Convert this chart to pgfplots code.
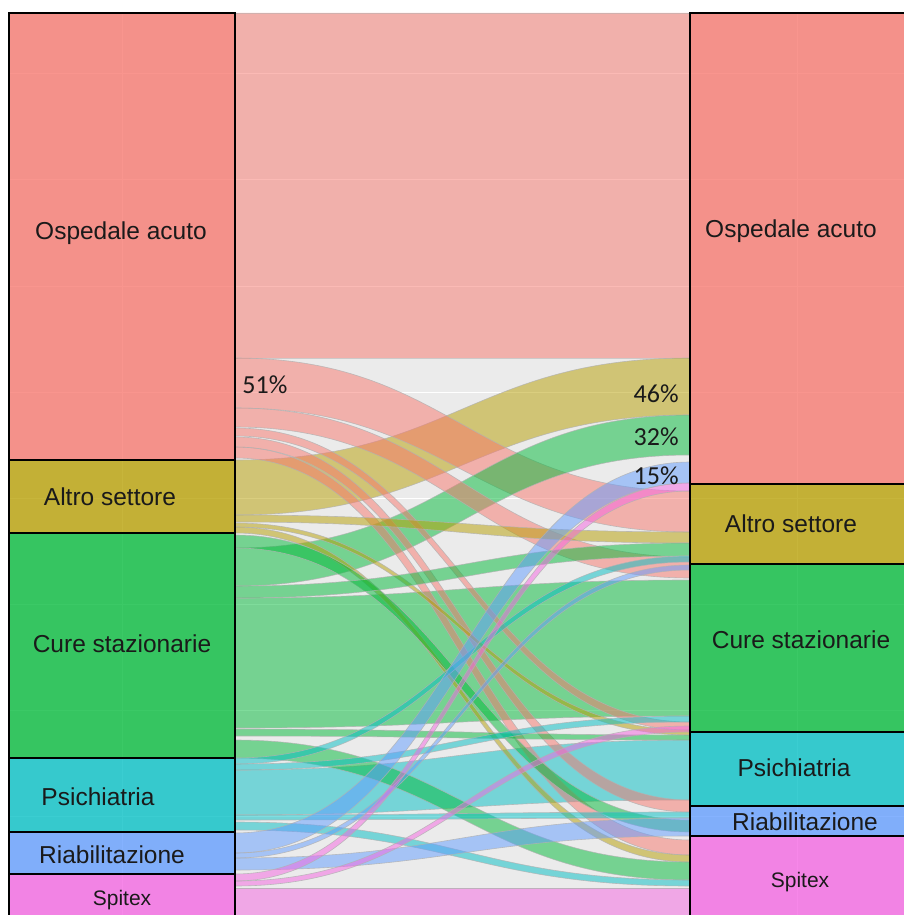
\documentclass[border=0pt]{standalone}
\usepackage{fontspec}
\setmainfont{Liberation Sans}
\newfontfamily\pctfont{Carlito}
\usepackage{pgfplots}
\pgfplotsset{compat=1.18}
\definecolor{cP}{HTML}{F8766D}
\definecolor{cO}{HTML}{B79F00}
\definecolor{cG}{HTML}{00BA38}
\definecolor{cC}{HTML}{00BFC4}
\definecolor{cB}{HTML}{619CFF}
\definecolor{cM}{HTML}{F564E3}
\definecolor{panel}{HTML}{EBEBEB}
\definecolor{txt}{HTML}{1A1A1A}
% flow: left top, left bottom, right top, right bottom, colour
\newcommand{\flow}[5]{%
 \path[fill=#5, fill opacity=0.5, draw=gray!60, draw opacity=0.8, line width=0.3pt]
 (axis cs:235,#1) .. controls (axis cs:450,#1) and (axis cs:475,#3) .. (axis cs:690,#3)
 -- (axis cs:690,#4) .. controls (axis cs:475,#4) and (axis cs:450,#2) .. (axis cs:235,#2) -- cycle;}
% stratum: x0, x1, y0, y1, colour
\newcommand{\stratum}[5]{%
 \addplot[fill=#5, fill opacity=0.77, draw=black, line width=0.65pt] coordinates {(#1,#3) (#2,#3) (#2,#4) (#1,#4)} --cycle;}
\begin{document}
\begin{tikzpicture}
\begin{axis}[
  width=452pt, height=457.5pt, scale only axis,
  xmin=0, xmax=904, ymin=0, ymax=915, y dir=reverse,
  hide axis, clip=true]
% frame for the page size
\addplot[draw=white, opacity=0] coordinates {(0,0) (904,0) (904,915) (0,915)} --cycle;
% panel
\addplot[fill=panel, draw=none] coordinates {(9,13) (912,13) (912,922) (9,922)} --cycle;
% grid
\addplot[white, line width=0.35pt] coordinates {(9,73) (904,73)};
\addplot[white, line width=0.35pt] coordinates {(9,179) (904,179)};
\addplot[white, line width=0.35pt] coordinates {(9,286) (904,286)};
\addplot[white, line width=0.35pt] coordinates {(9,392) (904,392)};
\addplot[white, line width=0.35pt] coordinates {(9,498) (904,498)};
\addplot[white, line width=0.35pt] coordinates {(9,604) (904,604)};
\addplot[white, line width=0.35pt] coordinates {(9,710) (904,710)};
\addplot[white, line width=0.35pt] coordinates {(9,816) (904,816)};
\addplot[white, line width=0.35pt] coordinates {(122,13) (122,915)};
\addplot[white, line width=0.35pt] coordinates {(797,13) (797,915)};
% flows
\flow{13}{358}{13}{358}{cP}
\flow{888}{915}{888}{915}{cM}
\flow{598}{728}{580}{716}{cG}
\flow{770}{815}{740}{800}{cC}
\flow{460}{515}{358}{415}{cO}
\flow{358}{408}{491}{532}{cP}
\flow{548}{586}{415}{455}{cG}
\flow{408}{427}{557}{578}{cP}
\flow{428}{436}{722}{730}{cP}
\flow{437}{447}{800}{812}{cP}
\flow{447}{458}{840}{855}{cP}
\flow{515}{522}{532}{543}{cO}
\flow{523}{527}{730}{735}{cO}
\flow{527}{533}{855}{862}{cO}
\flow{535}{548}{820}{832}{cG}
\flow{586}{598}{543}{556}{cG}
\flow{729}{736}{735}{740}{cG}
\flow{740}{758}{862}{880}{cG}
\flow{758}{764}{556}{562}{cC}
\flow{764}{770}{716}{722}{cC}
\flow{815}{820}{812}{818}{cC}
\flow{822}{830}{880}{886}{cC}
\flow{833}{853}{462}{483}{cB}
\flow{853}{858}{565}{570}{cB}
\flow{858}{870}{818}{836}{cB}
\flow{874}{881}{483}{491}{cM}
\flow{881}{886}{726}{732}{cM}
% left strata
\stratum{9}{235}{13}{460}{cP}
\stratum{9}{235}{460}{533}{cO}
\stratum{9}{235}{533}{758}{cG}
\stratum{9}{235}{758}{832}{cC}
\stratum{9}{235}{832}{874}{cB}
\stratum{9}{235}{874}{925}{cM}
% right strata
\stratum{690}{912}{13}{484}{cP}
\stratum{690}{912}{484}{564}{cO}
\stratum{690}{912}{564}{732}{cG}
\stratum{690}{912}{732}{806}{cC}
\stratum{690}{912}{806}{836}{cB}
\stratum{690}{912}{836}{925}{cM}
% labels
\begin{scope}[every node/.style={text=txt, font=\fontsize{12.25}{14}\selectfont, inner sep=0pt}]
\node at (axis cs:121,233) {Ospedale acuto};
\node at (axis cs:110,497) {Altro settore};
\node at (axis cs:122,644) {Cure stazionarie};
\node at (axis cs:98,797) {Psichiatria};
\node at (axis cs:112,855) {Riabilitazione};
\node[font=\fontsize{10.5}{12}\selectfont] at (axis cs:122,900) {Spitex};
\node at (axis cs:791,231) {Ospedale acuto};
\node at (axis cs:791,524) {Altro settore};
\node at (axis cs:801,640) {Cure stazionarie};
\node at (axis cs:794,768) {Psichiatria};
\node at (axis cs:805,822) {Riabilitazione};
\node[font=\fontsize{10.5}{12}\selectfont] at (axis cs:800,882) {Spitex};
\end{scope}
\begin{scope}[every node/.style={text=txt, font=\pctfont\fontsize{13}{15}\selectfont, inner sep=0pt}]
\node[anchor=west] at (axis cs:242,385) {51\%};
\node[anchor=east] at (axis cs:679,394) {46\%};
\node[anchor=east] at (axis cs:679,437) {32\%};
\node[anchor=east] at (axis cs:679,476) {15\%};
\end{scope}
\end{axis}
\path (current axis.south west) rectangle (current axis.north east);
\end{tikzpicture}
\end{document}
